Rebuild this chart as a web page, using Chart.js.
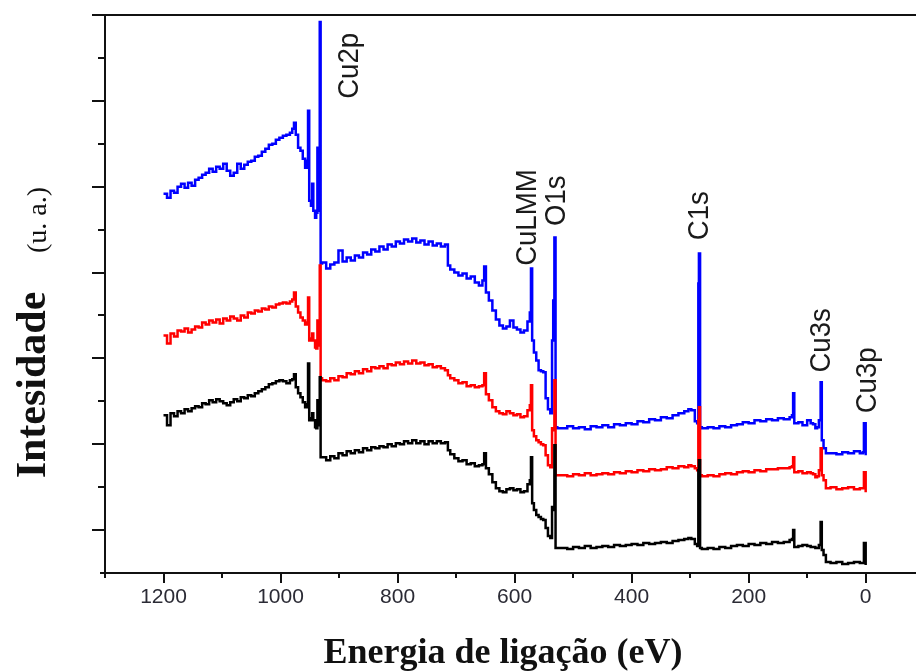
<!DOCTYPE html>
<html>
<head>
<meta charset="utf-8">
<script src="https://cdn.jsdelivr.net/npm/chart.js@4.4.1/dist/chart.umd.min.js"></script>
<style>
  html, body { margin: 0; padding: 0; background: #fff; }
  #wrap { width: 916px; height: 671px; }
</style>
</head>
<body>
<div id="wrap"><canvas id="xpsChart"></canvas></div>
<script>
// binding energy (eV), shared by the three spectra
const energies = [
  1200, 1194, 1188, 1182, 1176, 1170, 1164, 1158, 1152, 1146, 1140, 1134, 1128, 1122, 1116, 1110, 1104, 1098, 1092, 1086,
  1080, 1074, 1068, 1062, 1056, 1050, 1044, 1038, 1032, 1026, 1020, 1014, 1008, 1002, 996, 990, 984,
  980, 977, 974, 970, 966, 962, 958, 955, 953, 951, 948, 946, 944, 941, 939, 937, 935, 933, 931.5, 929,
  922, 915, 908, 901, 894, 887, 880, 873, 866, 859, 852, 845, 838, 831, 824, 817, 810, 803, 796, 789,
  782, 775, 768, 761, 754, 747, 740, 733, 726, 719,
  714, 710, 703, 696, 689, 682, 675, 668, 661, 655, 652, 649, 644, 638, 632, 626, 620, 614, 608, 602,
  596, 590, 584, 578, 574, 572, 570, 567, 563, 559, 555, 551, 547, 543, 539, 536, 534, 532, 530, 527,
  520, 510, 500, 490, 480, 470, 460, 450, 440, 430, 420, 410, 400, 390, 380, 370, 360, 350, 340, 330, 320, 310,
  303, 298, 292, 288, 286, 285, 283, 280,
  270, 260, 250, 240, 230, 220, 210, 200, 190, 180, 170, 160, 150, 140, 130,
  126, 124, 122, 115, 108, 100, 94, 90, 86, 83, 80, 77, 75, 72, 68, 60, 50, 40, 30, 20, 10, 5, 3, 0
];

// intensities (u. a.)
const blueCounts = [
  380, 376, 383, 381, 387, 390, 386, 391, 388, 394, 396, 399, 401, 405, 402, 407, 405, 410, 403, 398,
  401, 410, 405, 409, 412, 413, 417, 418, 422, 425, 429, 430, 434, 436, 438, 439, 441,
  445, 451, 439, 426, 423, 415, 406, 413, 463, 373, 368, 390, 363, 356, 361, 426, 363, 552, 310, 311,
  305, 309, 311, 323, 312, 316, 313, 318, 316, 321, 319, 324, 322, 327, 324, 329, 327, 332, 330, 334,
  332, 335, 331, 333, 329, 332, 328, 330, 327, 329,
  308, 304, 301, 298, 300, 295, 297, 291, 288, 293, 307, 281, 273, 263, 254, 248, 245, 247, 253, 246,
  244, 241, 243, 252, 261, 305, 233, 221, 213, 203, 202, 201, 175, 164, 160, 233, 273, 336, 146, 145,
  145, 147, 145, 146, 144, 147, 146, 148, 146, 149, 148, 150, 149, 152, 151, 154, 153, 156, 155, 158, 160, 162,
  164, 163, 152, 150, 290, 320, 146, 145,
  146, 145, 147, 146, 148, 149, 151, 150, 153, 152, 154, 153, 155, 154, 156,
  158, 180, 150, 151, 148, 153, 150, 149, 145, 146, 153, 191, 133, 125, 120, 120, 119, 121, 120, 122, 120, 121, 150, 118
];
const redCounts = [
  238, 230, 240, 237, 243, 242, 245, 241, 244, 247, 246, 251, 249, 253, 251, 254, 250, 255, 253, 257,
  255, 253, 258, 256, 261, 260, 263, 262, 265, 264, 267, 266, 269, 270, 271, 270, 272,
  274, 281, 267, 261, 256, 253, 249, 251, 276, 233, 235, 240, 233, 226, 225, 253, 228, 308, 195, 193,
  192, 195, 193, 197, 196, 200, 199, 202, 200, 204, 202, 206, 205, 207, 205, 209, 208, 211, 209, 212,
  210, 213, 210, 211, 208, 209, 206, 207, 205, 203,
  198, 195, 193, 190, 191, 187, 188, 186, 187, 188, 200, 179, 173, 166, 162, 160, 159, 162, 160, 158,
  159, 156, 157, 163, 168, 188, 143, 137, 133, 131, 129, 128, 118, 108, 106, 145, 143, 193, 98, 98,
  98, 97, 99, 98, 100, 98, 99, 100, 99, 101, 100, 102, 101, 103, 102, 104, 103, 104, 106, 105, 107, 106,
  108, 107, 105, 103, 153, 166, 98, 97,
  98, 97, 99, 100, 99, 101, 102, 101, 103, 102, 104, 104, 105, 105, 106,
  107, 116, 101, 102, 100, 101, 100, 99, 96, 97, 103, 125, 98, 93, 85, 86, 84, 85, 86, 84, 85, 85, 101, 81
];
const blackCounts = [
  158, 148, 160, 157, 162, 160, 164, 162, 165, 167, 166, 170, 169, 173, 171, 174, 172, 170, 168, 171,
  174, 172, 176, 175, 178, 177, 180, 182, 184, 186, 189, 190, 192, 193, 192, 190, 193,
  194, 199, 186, 180, 176, 171, 166, 169, 210, 153, 155, 160, 153, 146, 145, 173, 148, 196, 116, 116,
  113, 117, 115, 120, 118, 122, 120, 123, 121, 125, 123, 126, 125, 127, 126, 129, 127, 130, 129, 132,
  130, 133, 130, 132, 129, 132, 130, 132, 130, 131,
  123, 119, 115, 112, 113, 109, 110, 107, 108, 109, 120, 105, 99, 91, 85, 82, 81, 84, 85, 83,
  84, 81, 82, 89, 93, 116, 70, 63, 58, 56, 54, 53, 45, 37, 35, 66, 63, 128, 25, 25,
  25, 24, 26, 25, 27, 25, 26, 27, 26, 28, 27, 28, 29, 28, 30, 29, 30, 31, 30, 32, 33, 34,
  35, 34, 29, 27, 103, 113, 25, 24,
  25, 24, 26, 25, 27, 28, 27, 29, 28, 30, 29, 31, 30, 31, 33,
  34, 43, 26, 27, 28, 27, 26, 26, 25, 25, 28, 51, 23, 18, 11, 10, 11, 9, 10, 11, 10, 10, 30, 8
];

// axis ticks
const energyTicks = [1200, 1000, 800, 600, 400, 200, 0];
const energyMinorTicks = [1300, 1100, 900, 700, 500, 300, 100];
const intensityTicks = [43, 129, 215, 301, 387, 473, 559];
const intensityMinorTicks = [86, 172, 258, 344, 430, 516];

// peak labels
const peakNames = ['Cu2p', 'CuLMM', 'O1s', 'C1s', 'Cu3s', 'Cu3p'];
const peakEnergies = [881, 577, 527, 283, 75, -4];
const peakHeights = [508, 356, 373, 358, 233, 193];

const toPoints = counts => energies.map((e, i) => ({ x: e, y: counts[i] }));

// frame, tick marks, axis titles and peak names
const framePlugin = {
    id: 'framePlugin',
    afterDraw(chart) {
        const { ctx, chartArea: area, scales: { x, y } } = chart;
        ctx.save();
        ctx.strokeStyle = '#111';
        ctx.lineWidth = 2;
        ctx.beginPath();
        ctx.moveTo(area.left, area.top);
        ctx.lineTo(area.right, area.top);
        ctx.moveTo(area.left, area.top);
        ctx.lineTo(area.left, area.bottom);
        ctx.moveTo(area.left - 5, area.bottom);
        ctx.lineTo(area.right, area.bottom);
        intensityTicks.forEach(v => {
            const py = Math.round(y.getPixelForValue(v));
            ctx.moveTo(area.left, py);
            ctx.lineTo(area.left - 13, py);
        });
        intensityMinorTicks.forEach(v => {
            const py = Math.round(y.getPixelForValue(v));
            ctx.moveTo(area.left, py);
            ctx.lineTo(area.left - 7, py);
        });
        energyTicks.forEach(v => {
            const px = Math.round(x.getPixelForValue(v));
            ctx.moveTo(px, area.bottom);
            ctx.lineTo(px, area.bottom + 10);
        });
        energyMinorTicks.forEach(v => {
            const px = Math.round(x.getPixelForValue(v));
            ctx.moveTo(px, area.bottom);
            ctx.lineTo(px, area.bottom + 5);
        });
        ctx.stroke();

        ctx.fillStyle = '#111';
        ctx.textAlign = 'center';
        ctx.textBaseline = 'alphabetic';
        ctx.font = 'bold 36px "Liberation Serif"';
        ctx.fillText('Energia de ligação (eV)', 503, 663);

        ctx.save();
        ctx.translate(45, 385);
        ctx.rotate(-Math.PI / 2);
        ctx.font = 'bold 42px "Liberation Serif"';
        ctx.fillText('Intesidade', 0, 0);
        ctx.restore();

        ctx.save();
        ctx.translate(46, 220);
        ctx.rotate(-Math.PI / 2);
        ctx.font = '28px "Liberation Serif"';
        ctx.fillText('(u. a.)', 0, 0);
        ctx.restore();

        ctx.fillStyle = '#1a1a1a';
        ctx.font = '29px "Liberation Sans"';
        ctx.textBaseline = 'middle';
        peakNames.forEach((name, i) => {
            ctx.save();
            ctx.translate(x.getPixelForValue(peakEnergies[i]), y.getPixelForValue(peakHeights[i]));
            ctx.rotate(-Math.PI / 2);
            ctx.scale(0.95, 1);
            ctx.fillText(name, 0, 0);
            ctx.restore();
        });
        ctx.restore();
    }
};

const ctx = document.getElementById('xpsChart').getContext('2d');
new Chart(ctx, {
    type: 'line',
    data: {
        datasets: [
            { label: 'preto', data: toPoints(blackCounts), borderColor: '#000000' },
            { label: 'vermelho', data: toPoints(redCounts), borderColor: '#ff0000' },
            { label: 'azul', data: toPoints(blueCounts), borderColor: '#0000ff' }
        ]
    },
    options: {
        responsive: true,
        maintainAspectRatio: false,
        animation: false,
        layout: { padding: { top: 15, right: 0, bottom: 0, left: 0 } },
        elements: {
            point: { radius: 0 },
            line: { borderWidth: 2.5, tension: 0, stepped: true }
        },
        plugins: {
            legend: { display: false },
            tooltip: { enabled: false }
        },
        scales: {
            x: {
                type: 'linear',
                reverse: true,
                min: -86,
                max: 1300,
                afterBuildTicks: scale => { scale.ticks = energyTicks.map(v => ({ value: v })); },
                afterFit: scale => { scale.height = 98; },
                grid: { display: false, drawTicks: false },
                border: { display: false },
                ticks: {
                    color: '#2b2b35',
                    font: { family: 'Liberation Sans', size: 21 },
                    padding: 12,
                    maxRotation: 0,
                    autoSkip: false,
                    callback: value => String(value)
                }
            },
            y: {
                min: 0,
                max: 559,
                afterFit: scale => { scale.width = 105; },
                grid: { display: false, drawTicks: false },
                border: { display: false },
                ticks: { display: false }
            }
        }
    },
    plugins: [framePlugin]
});
</script>
</body>
</html>
